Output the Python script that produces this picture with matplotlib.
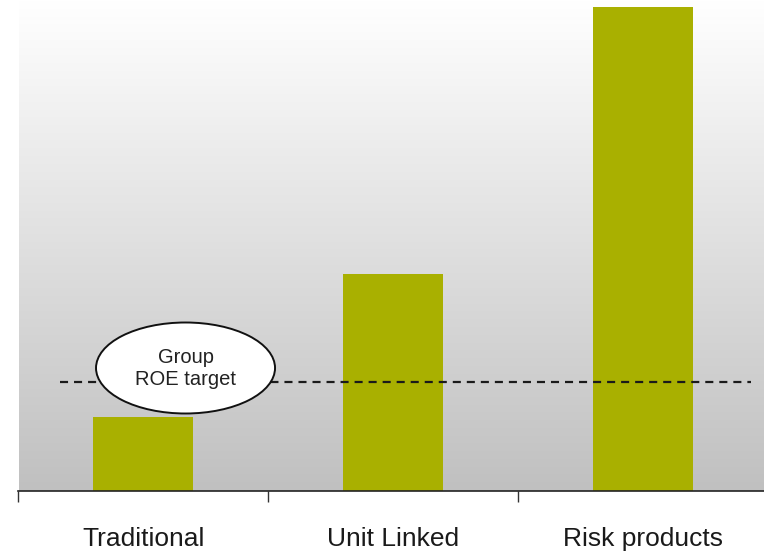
import numpy as np
import matplotlib
matplotlib.use("Agg")
import matplotlib.pyplot as plt
from matplotlib.patches import Ellipse

# Data (relative return on equity)
categories = ["Traditional", "Unit Linked", "Risk products"]
roe = [7.4, 21.7, 48.4]
group_target = 10.9

plt.rcParams['font.family'] = ['Liberation Sans', 'DejaVu Sans']
plt.rcParams['lines.scale_dashes'] = False

fig = plt.figure(figsize=(7.64, 5.53), dpi=100)
ax = fig.add_axes([18.5 / 764, 62.3 / 553, 749 / 764, 490.7 / 553])

x = np.arange(len(categories))
ax.set_xlim(-0.5, 2.5)
ax.set_ylim(0, 49.07)

# gray gradient background
grad = np.linspace(1.0, 0.0, 256).reshape(-1, 1)
ax.imshow(grad, cmap=plt.matplotlib.colors.LinearSegmentedColormap.from_list(
    "bg", ["#c0c0c0", "#ffffff"]), aspect="auto",
    extent=[-0.5, 2.5, 0, 49.07], origin="upper", zorder=0)

ax.bar(x, roe, width=0.40, color="#a9b000", zorder=2)

# group ROE target
ax.plot([-0.334, 2.432], [group_target, group_target], color="#1a1a1a",
        lw=1.6, dashes=(5.8, 4.3), zorder=3)
ax.add_patch(Ellipse((0.169, 12.27), 0.717, 9.1, facecolor="white",
                     edgecolor="#111111", lw=1.4, zorder=4))
ax.text(0.169, 12.2, "Group\nROE target", ha="center", va="center",
        fontsize=14.5, color="#222222", linespacing=1.2, zorder=5)

# axes styling
for s in ["top", "right", "left"]:
    ax.spines[s].set_visible(False)
ax.spines["bottom"].set_color("#222222")
ax.spines["bottom"].set_linewidth(1.2)
ax.set_yticks([])
ax.set_xticks([-0.5, 0.5, 1.5, 2.5])
ax.set_xticklabels([])
ax.tick_params(axis="x", which="major", length=8, width=1, color="#333333",
               direction="out")
ax.set_xticks(x, minor=True)
ax.set_xticklabels(categories, minor=True, fontsize=19, color="#1a1a1a")
ax.tick_params(axis="x", which="minor", length=0, pad=26)

fig.savefig("out.png", dpi=100)
